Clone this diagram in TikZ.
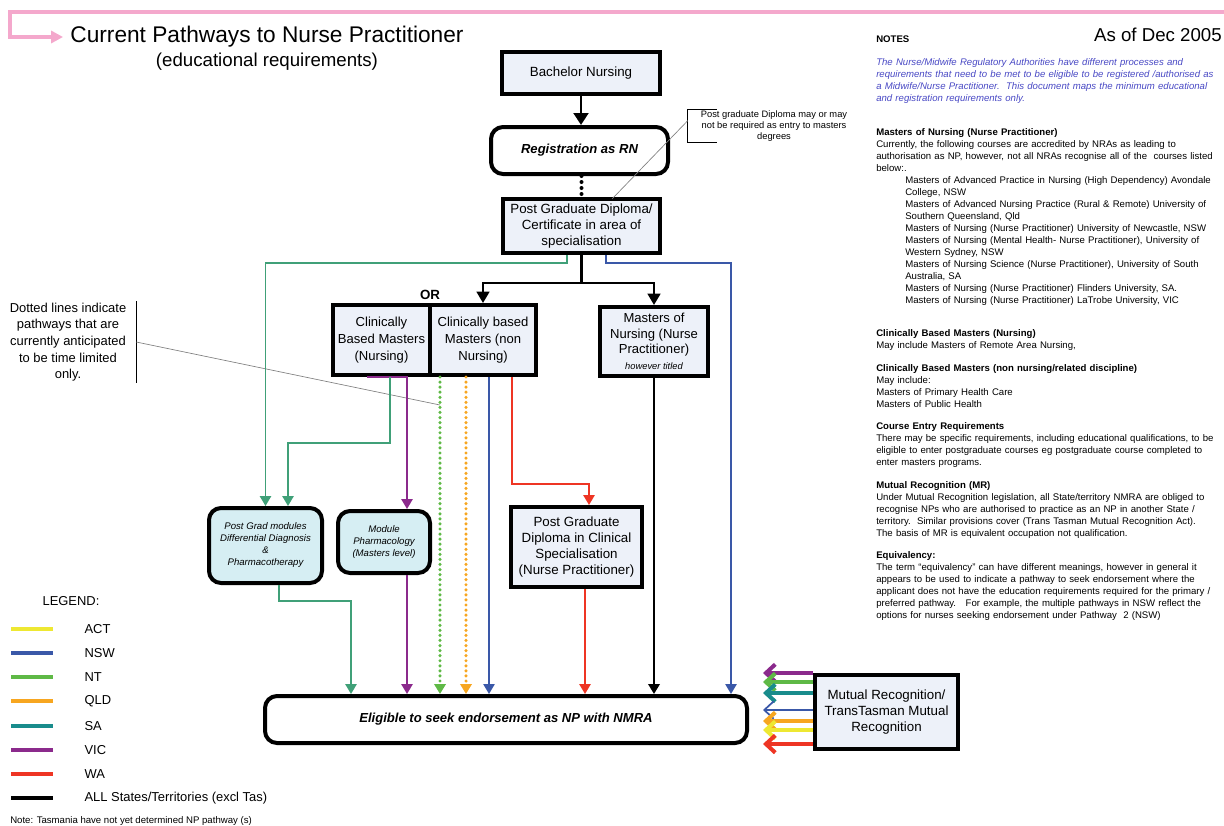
\documentclass[tikz,border=0pt]{standalone}
\usepackage{fontspec}
\setmainfont{Liberation Sans}
\usetikzlibrary{arrows.meta,positioning}
\definecolor{boxfill}{RGB}{237,241,249}
\definecolor{modfill}{RGB}{214,238,243}
\definecolor{pinkc}{RGB}{244,168,204}
\definecolor{notec}{RGB}{72,72,196}
\definecolor{actc}{RGB}{238,232,50}
\definecolor{nswc}{RGB}{58,88,168}
\definecolor{ntc}{RGB}{95,185,70}
\definecolor{qldc}{RGB}{247,166,32}
\definecolor{sac}{RGB}{25,140,140}
\definecolor{sagreen}{RGB}{64,160,120}
\definecolor{vicc}{RGB}{139,42,140}
\definecolor{wac}{RGB}{238,53,36}
\begin{document}
\begin{tikzpicture}[x=0.75pt, y=-0.75pt,
    box/.style={draw, line width=3pt, fill=boxfill, align=center, inner sep=0pt, font=\fontsize{10}{12}\selectfont},
    rbox/.style={box, fill=white, rounded corners=9pt, font=\fontsize{9.8}{12}\selectfont\bfseries\itshape},
    modbox/.style={box, fill=modfill, rounded corners=9pt, font=\fontsize{7.2}{9}\selectfont\itshape},
    arrowed/.style={-{Triangle[length=7.5pt,width=8.5pt]}},
    route/.style={line width=1.4pt, arrowed},
    blkroute/.style={line width=1.8pt},
    dotroute/.style={line width=2.6pt, line cap=round, dash pattern=on 0pt off 3.8pt, arrowed},
    mrarrow/.style={line width=3pt, -{Straight Barb[length=7pt,width=13pt]}},
    legline/.style={line width=2.4pt},
    legtext/.style={font=\fontsize{9.7}{12}\selectfont, inner sep=0pt, text=black},
    notestext/.style={font=\fontsize{7.2}{9}\selectfont, text width=262pt, align=left, inner sep=0pt},
  ]
\useasboundingbox (0,0) rectangle (1224,825);

% title
\node (title) [font=\fontsize{17}{20}\selectfont] at (267,37) {Current Pathways to Nurse Practitioner};
\node (subtitle) [font=\fontsize{14}{17}\selectfont] at (267,62) {(educational requirements)};
\node (asof) [font=\fontsize{14}{17}\selectfont, anchor=east, inner sep=0pt] at (1222,35) {As of Dec 2005};
\coordinate (pinkr) at (1224,12);
\coordinate (pinkl) at (10,12);
\draw[pinkc, line width=2.3pt, -{Triangle[length=9pt,width=9pt]}, shorten >=2pt] (pinkr) -- (pinkl) |- (title.west);

% boxes
\node (bach) [box, minimum width=118.5pt, minimum height=31.5pt] at (581,73) {Bachelor Nursing};
\node (reg) [rbox, minimum width=132.75pt, minimum height=35.25pt] at (579.5,150.5) {Registration as RN};
\node (pgd) [box, minimum width=117.75pt, minimum height=40.5pt] at (581.5,226) {Post Graduate Diploma/\\Certificate in area of\\specialisation};
\node (cbmn) [box, minimum width=72.75pt, minimum height=52.5pt, font=\fontsize{9.8}{12.5}\selectfont] at (381.5,340) {Clinically\\Based Masters\\(Nursing)};
\node (cbmnn) [box, minimum width=79.5pt, minimum height=52.5pt, font=\fontsize{9.8}{12.5}\selectfont] at (483,340) {Clinically based\\Masters (non\\Nursing)};
\node (mnp) [box, minimum width=81pt, minimum height=51.75pt, font=\fontsize{9.8}{11.6}\selectfont] at (654,341.5) {Masters of\\Nursing (Nurse\\Practitioner)\\{\fontsize{7}{8}\selectfont\itshape however titled}};
\node (pgm) [modbox, minimum width=84.75pt, minimum height=56.25pt] at (265.5,545.5) {Post Grad modules\\Differential Diagnosis\\\&\\Pharmacotherapy};
\node (modph) [modbox, minimum width=69pt, minimum height=46.5pt] at (384,542) {Module\\Pharmacology\\(Masters level)};
\node (pgdcs) [box, minimum width=98.25pt, minimum height=60pt] at (576.5,547) {Post Graduate\\Diploma in Clinical\\Specialisation\\(Nurse Practitioner)};
\node (elig) [rbox, minimum width=361.5pt, minimum height=35.25pt] at (506,719.5) {Eligible to seek endorsement as NP with NMRA};
\node (mutrec) [box, minimum width=107.25pt, minimum height=55.5pt] at (886.5,712) {Mutual Recognition/\\TransTasman Mutual\\Recognition};
\node (or) [font=\fontsize{10}{12}\selectfont\bfseries] at (430,295) {OR};

% side remarks
\node (callout) [font=\fontsize{7}{8.4}\selectfont, align=center, inner sep=0pt, minimum width=129pt, minimum height=24pt] at (774,126) {Post graduate Diploma may or may\\not be required as entry to masters\\degrees};
\draw[line width=0.8pt] ([xshift=21.75pt]callout.north west) -- (callout.north west) -- (callout.south west) -- ([xshift=21.75pt]callout.south west);
\coordinate (calloutend) at (612,199);
\draw[gray, line width=0.5pt] ([yshift=4pt]callout.west) -- (calloutend);
\node (dotnote) [font=\fontsize{9.7}{12.5}\selectfont, align=center, inner sep=0pt, minimum width=102pt, minimum height=60.75pt] at (68,342) {Dotted lines indicate\\pathways that are\\currently anticipated\\to be time limited\\only.};
\draw[line width=0.9pt] (dotnote.north east) -- (dotnote.south east);
\coordinate (dotend) at (440,405);
\draw[gray, line width=0.5pt] (dotnote.east) -- (dotend);

% top of the flow
\draw[line width=2.2pt, -{Triangle[length=9pt,width=11pt]}] (bach.south) -- (bach.south |- reg.north);
\draw[line width=3pt, line cap=round, dash pattern=on 0pt off 4.5pt] (pgd.north |- reg.south) -- (pgd.north);
\coordinate (split) at (581.5,283);
\draw[blkroute] (pgd.south) -- (split);
\draw[blkroute, -{Triangle[length=8.5pt,width=9.5pt]}] (split) -| (cbmnn.north);
\draw[blkroute, -{Triangle[length=8.5pt,width=9.5pt]}] (split) -| (mnp.north);
\coordinate (saturn) at (567,263);
\draw[route, sagreen] (pgd.south -| saturn) -- (saturn) -| (pgm.north);
\coordinate (nswturn) at (606,263);
\coordinate (nswright) at (731,263);
\draw[route, nswc, line width=1.2pt] (pgd.south -| nswturn) -- (nswturn) -- (nswright) -- (nswright |- elig.north);

% clinically based masters
\coordinate (vicl) at (367,375);
\coordinate (vicx) at (407,375);
\draw[route, vicc] (cbmn.south -| vicl) -- (cbmn.south -| vicx) -- (vicx |- modph.north);
\coordinate (sab1) at (390,443);
\coordinate (sab2) at (288,443);
\draw[route, sagreen] (cbmn.south -| sab1) -- (sab1) -- (sab2) -- (sab2 |- pgm.north);
\coordinate (ntx) at (440,400);
\coordinate (qldx) at (466,400);
\coordinate (nswx) at (489,400);
\draw[dotroute, ntc] (cbmnn.south -| ntx) -- (ntx |- elig.north);
\draw[dotroute, qldc] (cbmnn.south -| qldx) -- (qldx |- elig.north);
\draw[route, nswc, line width=1.2pt] (cbmnn.south -| nswx) -- (nswx |- elig.north);
\coordinate (wa1) at (512,484);
\coordinate (wa2) at (589,484);
\draw[route, wac] (cbmnn.south -| wa1) -- (wa1) -- (wa2) -- (wa2 |- pgdcs.north);
\draw[blkroute, arrowed] (mnp.south) -- (mnp.south |- elig.north);

% into the endorsement box
\coordinate (sac1) at (279,601);
\coordinate (sac2) at (351,601);
\draw[route, sagreen] (pgm.south -| sac1) -- (sac1) -- (sac2) -- (sac2 |- elig.north);
\draw[route, vicc] (modph.south -| vicx) -- (vicx |- elig.north);
\coordinate (wa3) at (585,600);
\draw[route, wac] (pgdcs.south -| wa3) -- (wa3 |- elig.north);

% mutual recognition
\coordinate (mrtip) at (763,712);
\coordinate (mrvic) at (mutrec.north west);
\coordinate (mrnt) at ([yshift=-6.75pt]mutrec.north west);
\coordinate (mrsa) at ([yshift=-15pt]mutrec.north west);
\coordinate (mrnsw) at ([yshift=-27.75pt]mutrec.north west);
\coordinate (mrqld) at ([yshift=-36pt]mutrec.north west);
\coordinate (mract) at ([yshift=-42.75pt]mutrec.north west);
\coordinate (mrwa) at ([yshift=-53.25pt]mutrec.north west);
\draw[mrarrow, vicc] (mrvic) -- (mrvic -| mrtip);
\draw[mrarrow, ntc] (mrnt) -- (mrnt -| mrtip);
\draw[mrarrow, sac] (mrsa) -- (mrsa -| mrtip);
\draw[mrarrow, nswc, line width=1.3pt] (mrnsw) -- (mrnsw -| mrtip);
\draw[mrarrow, qldc] (mrqld) -- (mrqld -| mrtip);
\draw[mrarrow, actc] (mract) -- (mract -| mrtip);
\draw[mrarrow, wac] (mrwa) -- (mrwa -| mrtip);

% legend
\node (legend) [legtext] at (71,601) {LEGEND:};
\draw[legline, actc] (11,629) -- (53,629) node (lgact) [right=22.5pt, legtext] {ACT};
\draw[legline, nswc] (11,653) -- (53,653) node (lgnsw) [right=22.5pt, legtext] {NSW};
\draw[legline, ntc] (11,677) -- (53,677) node (lgnt) [right=22.5pt, legtext] {NT};
\draw[legline, qldc] (11,701) -- (53,701) node (lgqld) [right=22.5pt, legtext] {QLD};
\draw[legline, sac] (11,726) -- (53,726) node (lgsa) [right=22.5pt, legtext] {SA};
\draw[legline, vicc] (11,750) -- (53,750) node (lgvic) [right=22.5pt, legtext] {VIC};
\draw[legline, wac] (11,774) -- (53,774) node (lgwa) [right=22.5pt, legtext] {WA};
\draw[legline, black] (11,798) -- (53,798) node (lgall) [right=22.5pt, legtext] {ALL States/Territories (excl Tas)};
\node (tasnote) [font=\fontsize{7.2}{9}\selectfont, anchor=west, inner sep=0pt] at (10,821) {Note: Tasmania have not yet determined NP pathway (s)};

% notes
\node (notes) [notestext, anchor=north west] at (876,35.5) {\noindent\textbf{NOTES}\\[8.25pt]
{\color{notec}\itshape The Nurse/Midwife Regulatory Authorities have different processes and\\
requirements that need to be met to be eligible to be registered /authorised as\\
a Midwife/Nurse Practitioner.\ \ This document maps the minimum educational\\
and registration requirements only.}\\[16.5pt]
\textbf{Masters of Nursing (Nurse Practitioner)}\\
Currently, the following courses are accredited by NRAs as leading to\\
authorisation as NP, however, not all NRAs recognise all of the\ \ courses listed\\
below:.\\
\hspace*{21.75pt}Masters of Advanced Practice in Nursing (High Dependency) Avondale\\
\hspace*{21.75pt}College, NSW\\
\hspace*{21.75pt}Masters of Advanced Nursing Practice (Rural \& Remote) University of\\
\hspace*{21.75pt}Southern Queensland, Qld\\
\hspace*{21.75pt}Masters of Nursing (Nurse Practitioner) University of Newcastle, NSW\\
\hspace*{21.75pt}Masters of Nursing (Mental Health- Nurse Practitioner), University of\\
\hspace*{21.75pt}Western Sydney, NSW\\
\hspace*{21.75pt}Masters of Nursing Science (Nurse Practitioner), University of South\\
\hspace*{21.75pt}Australia, SA\\
\hspace*{21.75pt}Masters of Nursing (Nurse Practitioner) Flinders University, SA.\\
\hspace*{21.75pt}Masters of Nursing (Nurse Practitioner) LaTrobe University, VIC\\[15.75pt]
\textbf{Clinically Based Masters (Nursing)}\\
May include Masters of Remote Area Nursing,\\[8.25pt]
\textbf{Clinically Based Masters (non nursing/related discipline)}\\
May include:\\
Masters of Primary Health Care\\
Masters of Public Health\\[7.5pt]
\textbf{Course Entry Requirements}\\
There may be specific requirements, including educational qualifications, to be\\
eligible to enter postgraduate courses eg postgraduate course completed to\\
enter masters programs.\\[8.25pt]
\textbf{Mutual Recognition (MR)}\\
Under Mutual Recognition legislation, all State/territory NMRA are obliged to\\
recognise NPs who are authorised to practice as an NP in another State /\\
territory.\ \ Similar provisions cover (Trans Tasman Mutual Recognition Act).\\
The basis of MR is equivalent occupation not qualification.\\[7.5pt]
\textbf{Equivalency:}\\
The term “equivalency” can have different meanings, however in general it\\
appears to be used to indicate a pathway to seek endorsement where the\\
applicant does not have the education requirements required for the primary /\\
preferred pathway.\ \ \ For example, the multiple pathways in NSW reflect the\\
options for nurses seeking endorsement under Pathway\ \ 2 (NSW)};
\end{tikzpicture}
\end{document}
